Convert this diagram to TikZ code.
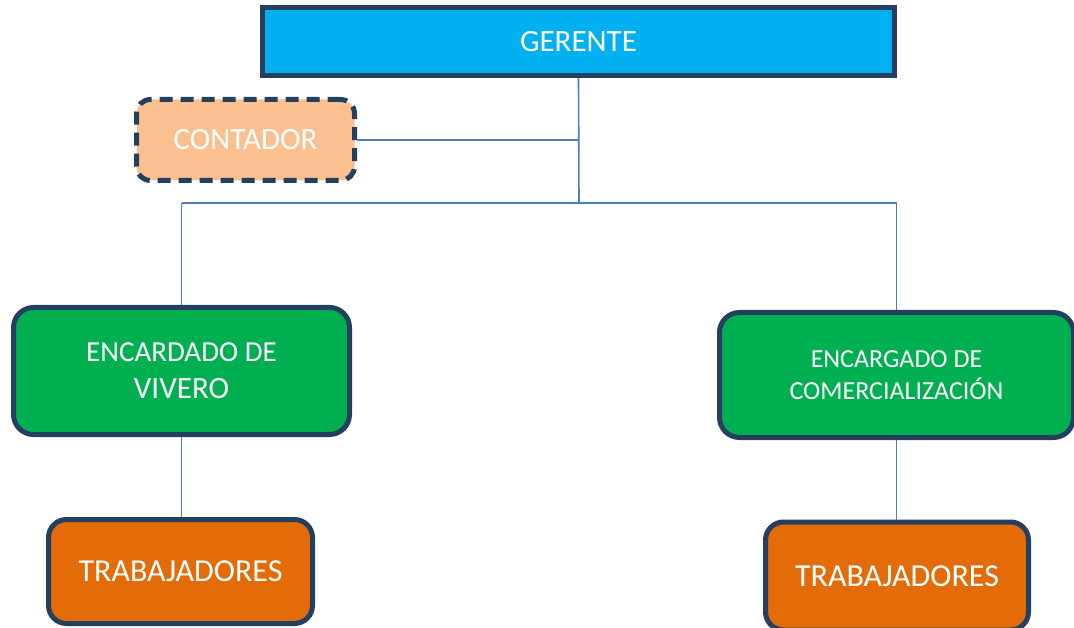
\documentclass[tikz,border=0pt]{standalone}
\usepackage{fontspec}
\setmainfont{Carlito}
\definecolor{navy}{HTML}{243F60}
\definecolor{skyfill}{HTML}{00B0F0}
\definecolor{peach}{HTML}{FAC090}
\definecolor{grn}{HTML}{00B050}
\definecolor{orng}{HTML}{E36C09}
\definecolor{conn}{HTML}{4A7EBB}
\begin{document}
\begin{tikzpicture}[x=1pt,y=1pt,
  box/.style={draw=navy,line width=5pt,text=white,inner sep=0pt,align=center},
  link/.style={draw=conn,line width=1.6pt}]
\useasboundingbox (0,0) rectangle (1074,-628);
\node[box,fill=skyfill,minimum width=632,minimum height=68,font=\fontsize{31}{31}\selectfont] (ger) at (578.5,-41.5) {GERENTE};
\node[box,fill=peach,minimum width=218,minimum height=81,rounded corners=14pt,dash pattern=on 13pt off 8pt,font=\fontsize{31}{31}\selectfont] (con) at (245.5,-140) {CONTADOR};
\node[box,fill=grn,minimum width=336,minimum height=127,rounded corners=20pt,font=\fontsize{29}{37}\selectfont] (viv) at (181.5,-371) {ENCARDADO DE\\{\fontsize{31}{37}\selectfont VIVERO}};
\node[box,fill=grn,minimum width=354,minimum height=125,rounded corners=20pt,font=\fontsize{26}{32}\selectfont] (com) at (896.5,-375) {ENCARGADO DE\\COMERCIALIZACIÓN};
\node[box,fill=orng,minimum width=264,minimum height=104,rounded corners=18pt,font=\fontsize{32}{32}\selectfont] (tl) at (180.5,-571.5) {TRABAJADORES};
\node[box,fill=orng,minimum width=263,minimum height=108,rounded corners=18pt,font=\fontsize{32}{32}\selectfont] (tr) at (897,-576) {TRABAJADORES};
\coordinate (cj) at (579,-140);
\coordinate (mj) at (579,-203);
\coordinate (lj) at (181.5,-203);
\coordinate (rj) at (896.5,-203);
\draw[link] (ger.south) -- (mj);
\draw[link] (con.east) -- (cj);
\draw[link] (lj) -- (rj);
\draw[link] (lj) -- (viv.north);
\draw[link] (rj) -- (com.north);
\draw[link] (viv.south) -- (viv.south |- tl.north);
\draw[link] (com.south) -- (com.south |- tr.north);
\end{tikzpicture}
\end{document}
